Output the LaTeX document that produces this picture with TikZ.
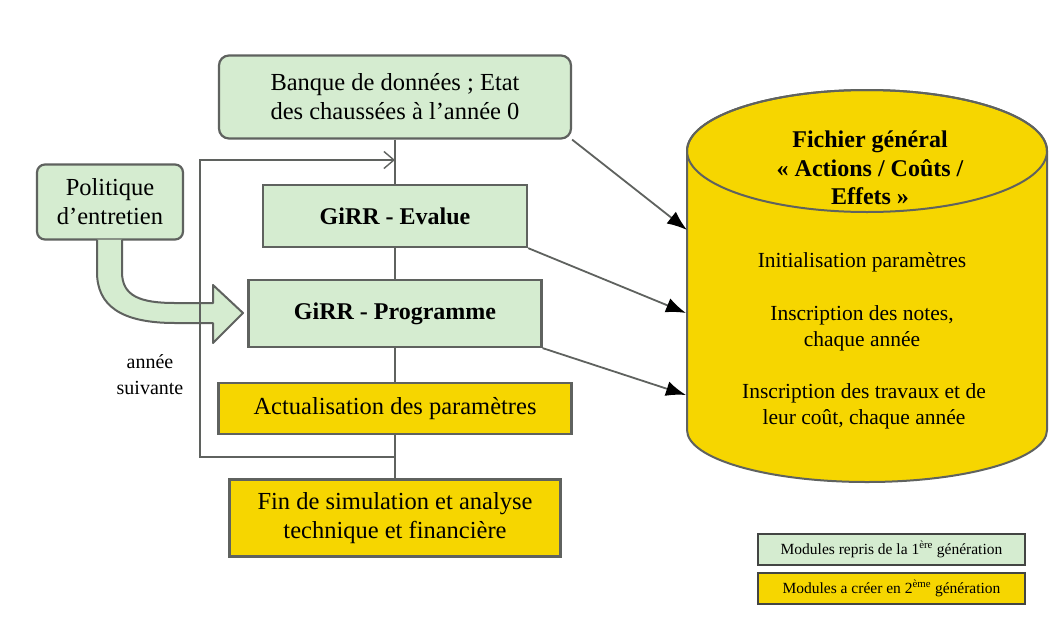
\documentclass[tikz,border=0pt]{standalone}
\usepackage{fontspec}
\setmainfont{Liberation Serif}
\usetikzlibrary{arrows.meta}

\definecolor{modgreen}{RGB}{213,236,208}
\definecolor{modyellow}{RGB}{246,214,0}
\definecolor{framegray}{RGB}{95,98,95}

\begin{document}
\begin{tikzpicture}[x=1pt,y=-1pt,
    oldmod/.style={draw=framegray,line width=2.2pt,fill=modgreen,align=center,inner sep=0pt,font=\fontsize{24.5}{29}\selectfont},
    newmod/.style={oldmod,fill=modyellow},
    link/.style={draw=framegray,line width=1.8pt},
    feed/.style={link,-{Latex[length=20pt,width=15pt,black]}},
    cyltext/.style={align=center,font=\fontsize{21.5}{26}\selectfont},
    keybox/.style={draw=framegray!70!black,line width=2.2pt,minimum width=267pt,minimum height=31pt,inner sep=0pt,font=\fontsize{15.5}{17}\selectfont}]

    \useasboundingbox (0,0) rectangle (1056,637);
    \fill[white] (0,0) rectangle (1056,637);

    %draw the file
    \filldraw[fill=modyellow,draw=framegray,line width=2pt] (687,151) -- (687,430)
        arc[start angle=180,end angle=0,x radius=180,y radius=52] -- (1047,151)
        arc[start angle=0,end angle=-180,x radius=180,y radius=61] -- cycle;
    \draw[framegray,line width=2pt] (867,151) ellipse[x radius=180,y radius=61];

    \node[cyltext,font=\fontsize{24}{28.5}\selectfont\bfseries] (fichier) at (870,168) {Fichier général\\« Actions / Coûts /\\Effets »};
    \node[cyltext] (init) at (862,262) {Initialisation paramètres};
    \node[cyltext] (notes) at (862,328) {Inscription des notes,\\chaque année};
    \node[cyltext] (travaux) at (864,406) {Inscription des travaux et de\\leur coût, chaque année};

    \coordinate (inA) at (687,230);
    \coordinate (inB) at (686,313);
    \coordinate (inC) at (686,395);

    %draw the modules
    \node[oldmod,rounded corners=10pt,minimum width=352pt,minimum height=83pt] (banque) at (395,97) {Banque de données ; Etat\\des chaussées à l’année 0};
    \node[oldmod,minimum width=264pt,minimum height=62pt,font=\fontsize{24}{29}\selectfont\bfseries] (evalue) at (395,216) {GiRR - Evalue};
    \node[oldmod,minimum width=293pt,minimum height=67pt,font=\fontsize{24}{29}\selectfont\bfseries] (prog) at (395,313.5) {GiRR - Programme};
    \node[newmod,minimum width=353pt,minimum height=51pt] (actu) at (395,408.5) {Actualisation des paramètres};
    \node[newmod,minimum width=331pt,minimum height=77pt] (fin) at (395,518) {Fin de simulation et analyse\\technique et financière};
    \node[oldmod,rounded corners=8pt,minimum width=146pt,minimum height=75pt] (politique) at (110,202) {Politique\\d’entretien};

    %draw the policy arrow
    \filldraw[fill=modgreen,draw=framegray,line width=2pt,line join=round] (122,239.5) -- (122,272)
        .. controls (122,296) and (140,303) .. (175,303) -- (213,303) -- (213,285) -- (243,313)
        -- (213,343) -- (213,323) -- (175,323) .. controls (120,323) and (97,305) .. (97,272) -- (97,239.5);

    %draw the main chain
    \draw[link] (banque) -- (evalue) -- (prog) -- (actu) -- (fin);

    %draw the yearly loop
    \coordinate (loopout) at (395,457);
    \coordinate (loopin) at (395,160);
    \draw[link,line width=1.4pt,-{Straight Barb[length=10pt,width=17pt]}] (loopout) -- (200,457) -- (200,160) -- (loopin);
    \node[font=\fontsize{20}{26}\selectfont,align=center] (suivante) at (150,375) {année\\suivante};

    %draw the links to the file
    \draw[feed] (banque.south east) -- (inA);
    \draw[feed] (evalue.south east) -- (inB);
    \draw[feed] (prog.south east) -- (inC);

    %draw the key
    \node[keybox,fill=modgreen] (keyold) at (891.5,549.5) {Modules repris de la 1\textsuperscript{ère} génération};
    \node[keybox,fill=modyellow] (keynew) at (891.5,588.5) {Modules a créer en 2\textsuperscript{ème} génération};

\end{tikzpicture}
\end{document}
